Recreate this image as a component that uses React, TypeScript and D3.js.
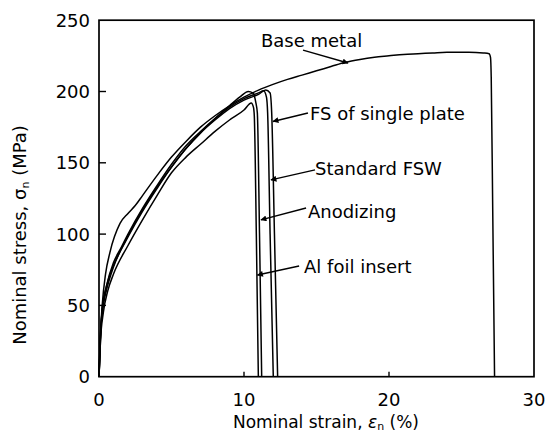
import React from 'react';
import * as d3 from 'd3';

// [strain %, stress MPa]
const baseMetal: [number, number][] = [
  [0, 0], [0.1, 30], [0.22, 50], [0.45, 72], [0.75, 87], [1.45, 107.5], [2, 114.5], [2.5, 120],
  [3, 127], [4, 141], [5, 154], [6, 165], [7, 175], [8, 183], [9, 190], [10, 196], [11, 201],
  [12, 205], [13, 208.5], [14, 211.5], [15, 214.5], [16, 217.5], [17, 220.5], [18, 222.5],
  [19, 224], [20, 225], [21, 226], [22, 226.5], [23, 227], [24, 227.5], [25.5, 227.5],
  [26.5, 227], [26.9, 226.5], [27.0, 224], [27.05, 210], [27.15, 120], [27.28, 0]
];
const fsSinglePlate: [number, number][] = [
  [0, 0], [0.1, 25], [0.2, 45], [0.4, 58], [0.7, 70], [1, 78], [1.5, 89], [2, 99],
  [3, 117], [4, 133], [5, 147], [6, 160], [7, 171], [8, 180], [9, 188], [10, 194],
  [11, 198], [11.5, 201], [11.8, 199], [11.91, 185], [12.1, 100], [12.32, 0]
];
const standardFSW: [number, number][] = [
  [0, 0], [0.1, 28], [0.25, 50], [0.5, 63], [1, 80], [1.5, 90], [2, 100], [3, 118],
  [4, 134], [5, 149], [6, 162], [7, 172], [8, 181], [9, 189], [10, 195], [11, 199],
  [11.35, 200.5], [11.55, 196], [11.63, 185], [11.8, 100], [12.02, 0]
];
const anodizing: [number, number][] = [
  [0, 0], [0.1, 30], [0.3, 50], [0.6, 64], [1, 77], [2, 98], [3, 116], [4, 132],
  [5, 147], [6, 160], [7, 171], [8, 181], [9, 190], [9.7, 196], [10.3, 200],
  [10.6, 199], [10.82, 192], [10.92, 185], [11.07, 100], [11.22, 0]
];
const alFoilInsert: [number, number][] = [
  [0, 0], [0.1, 25], [0.3, 45], [0.6, 60], [1, 72], [2, 92], [3, 110], [4, 127],
  [5, 143], [6, 154], [7, 163], [8, 172], [9, 180], [10, 187], [10.5, 192],
  [10.65, 189], [10.71, 183], [10.85, 100], [10.99, 0]
];
const curves = [baseMetal, fsSinglePlate, standardFSW, anodizing, alFoilInsert];

// label, text position, arrow start, arrow tip (all in data units)
const labelNames = ['Base metal', 'FS of single plate', 'Standard FSW', 'Anodizing', 'Al foil insert'];
const labelPos: [number, number][] = [[11.17, 231], [14.55, 180], [14.9, 141.4], [14.41, 111.3], [14.14, 72.7]];
const arrowFrom: [number, number][] = [[14.07, 229], [14.41, 184.9], [14.9, 145], [14.28, 118.3], [13.8, 77.6]];
const arrowTo: [number, number][] = [[17.17, 220], [12.0, 179], [11.86, 138], [11.17, 110], [10.93, 71.3]];

const xTicks = [0, 10, 20, 30];
const yTicks = [0, 50, 100, 150, 200, 250];

const W = 546;
const H = 434;
const font = '"DejaVu Sans", sans-serif';

export default function App() {
  const x = d3.scaleLinear().domain([0, 30]).range([99, 534]);
  const y = d3.scaleLinear().domain([0, 250]).range([376.7, 20.2]);
  const line = d3.line<[number, number]>()
    .x(d => x(d[0]))
    .y(d => y(d[1]))
    .curve(d3.curveMonotoneX);

  return (
    <svg width={W} height={H} style={{ position: 'absolute', left: 0, top: 0, background: '#fff' }}
      fontFamily={font}>
      <defs>
        <marker id="head" viewBox="0 0 10 10" refX="9" refY="5" markerWidth="7" markerHeight="6"
          orient="auto" markerUnits="userSpaceOnUse">
          <path d="M0,0 L10,5 L0,10 z" fill="#000" />
        </marker>
      </defs>

      {curves.map((c, i) => (
        <path key={i} d={line(c) ?? ''} fill="none" stroke="#000" strokeWidth={1.5} />
      ))}

      {/* frame */}
      <rect x={x(0)} y={y(250)} width={x(30) - x(0)} height={y(0) - y(250)}
        fill="none" stroke="#000" strokeWidth={1.7} />

      {/* ticks */}
      {yTicks.filter(t => t > 0 && t < 250).map(t => (
        <line key={t} x1={x(0)} x2={x(0) + 7} y1={y(t)} y2={y(t)} stroke="#000" strokeWidth={1.4} />
      ))}
      {xTicks.filter(t => t > 0 && t < 30).map(t => (
        <line key={t} x1={x(t)} x2={x(t)} y1={y(0)} y2={y(0) - 5} stroke="#000" strokeWidth={1.4} />
      ))}

      {yTicks.map(t => (
        <text key={t} x={x(0) - 9} y={y(t)} dy="0.36em" textAnchor="end" fontSize={18}>{t}</text>
      ))}
      {xTicks.map(t => (
        <text key={t} x={x(t)} y={406} textAnchor="middle" fontSize={18}>{t}</text>
      ))}

      {/* axis titles */}
      <text x={326} y={428} textAnchor="middle" fontSize={17}>
        Nominal strain, <tspan fontStyle="italic">ε</tspan><tspan fontSize={11} dy={2}>n</tspan><tspan dy={-2}> (%)</tspan>
      </text>
      <text transform="translate(26,235) rotate(-90)" textAnchor="middle" fontSize={18}>
        Nominal stress, σ<tspan fontSize={11} dy={3}>n</tspan><tspan dy={-3}> (MPa)</tspan>
      </text>

      {/* annotations */}
      {labelNames.map((name, i) => (
        <g key={name}>
          <line x1={x(arrowFrom[i][0])} y1={y(arrowFrom[i][1])} x2={x(arrowTo[i][0])} y2={y(arrowTo[i][1])}
            stroke="#000" strokeWidth={1.4} markerEnd="url(#head)" />
          <text x={x(labelPos[i][0])} y={y(labelPos[i][1])} fontSize={18}>{name}</text>
        </g>
      ))}
    </svg>
  );
}
